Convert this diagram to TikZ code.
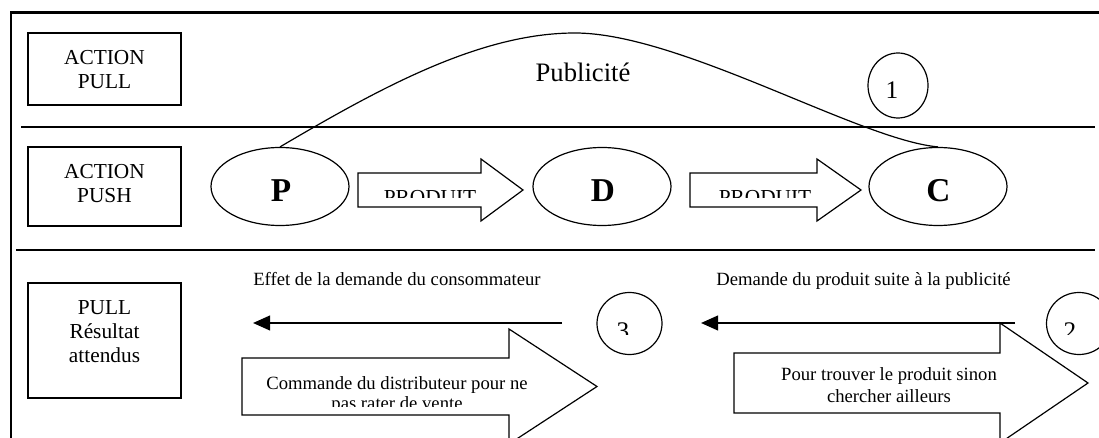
\documentclass[tikz,border=0pt]{standalone}
\usepackage{fontspec}
\setmainfont{Liberation Serif}
\usetikzlibrary{arrows.meta,shapes.geometric}
\newcommand{\blkarrow}[6]{%
  \draw[blockarrow] (#1,#4-#5) -- (#2,#4-#5) -- (#2,#4-#6) -- (#3,#4) -- (#2,#4+#6) -- (#2,#4+#5) -- (#1,#4+#5) -- cycle;}
\begin{document}
\begin{tikzpicture}[x=0.75pt,y=-0.75pt]
\tikzset{
  frame/.style={line width=1.6pt},
  sepline/.style={line width=1.1pt},
  box/.style={draw, rectangle, line width=0.9pt, inner sep=0pt, minimum width=114.75pt},
  actor/.style={draw, ellipse, line width=0.9pt, inner sep=0pt, minimum width=103.5pt, minimum height=58.5pt},
  numcirc/.style={draw, ellipse, line width=0.9pt, inner sep=0pt},
  blockarrow/.style={draw, line width=0.9pt, line join=miter},
  flowarrow/.style={line width=1.5pt, -{Triangle[length=12.75pt,width=11pt]}},
  curveline/.style={line width=0.9pt},
  lbl/.style={font=\fontsize{16}{19}\selectfont, inner sep=0pt, anchor=base},
  small/.style={font=\fontsize{14}{17}\selectfont, inner sep=0pt, anchor=base},
  smallw/.style={font=\fontsize{14}{17}\selectfont, inner sep=0pt, anchor=base west},
  big/.style={font=\fontsize{25}{30}\selectfont\bfseries, inner sep=0pt, anchor=base},
  digit/.style={font=\fontsize{19}{23}\selectfont, inner sep=0pt, anchor=base},
  pub/.style={font=\fontsize{20}{24}\selectfont, inner sep=0pt, anchor=base},
  prod/.style={font=\fontsize{16}{19}\selectfont, inner sep=0pt, anchor=base}
}
\clip (0,0) rectangle (1099,438);

% frame and separators
\draw[frame] (11,440) -- (11,12.5) -- (1100,12.5);
\draw[sepline] (21,127) -- (1095,127);
\draw[sepline] (16,250) -- (1095,250);

% left label boxes
\node[box, minimum height=54pt] (pullbox) at (104.5,69) {};
\node[lbl] (pullA) at (104.5,65) {ACTION};
\node[lbl] (pullB) at (104.5,89) {PULL};
\node[box, minimum height=59.25pt] (pushbox) at (104.5,186.5) {};
\node[lbl] (pushA) at (104.5,179) {ACTION};
\node[lbl] (pushB) at (104.5,203) {PUSH};
\node[box, minimum height=86.25pt] (resbox) at (104.5,340.5) {};
\node[lbl] (resA) at (104.5,315) {PULL};
\node[lbl] (resB) at (104.5,338.5) {Résultat};
\node[lbl] (resC) at (104.5,362) {attendus};

% actors
\node[actor] (P) at (280,186.5) {};
\node[actor] (D) at (602,186.5) {};
\node[actor] (C) at (938,186.5) {};
\node[big] (Pt) at (281,201.5) {P};
\node[big] (Dt) at (603,201.5) {D};
\node[big] (Ct) at (938.5,201.5) {C};

% advertising curve
\draw[curveline] (P.north) .. controls (380,88) and (480,33) .. (575,33)
  .. controls (680,33) and (860,140) .. (C.north);
\node[pub] (pubt) at (583,82) {Publicité};

% numbered circles
\node[numcirc, minimum width=45pt, minimum height=48.75pt] (n1) at (898,85.5) {};
\node[digit] (d1) at (892,98.3) {1};
\node[numcirc, minimum width=48.75pt, minimum height=46.5pt] (n3) at (629.5,323.5) {};
\node[numcirc, minimum width=48.75pt, minimum height=46.5pt] (n2) at (1079,323.5) {};
\begin{scope}
  \clip (590,290) rectangle (670,334);
  \node[digit] (d3) at (623,339.5) {3};
\end{scope}
\begin{scope}
  \clip (1040,290) rectangle (1099,334);
  \node[digit] (d2) at (1070,339.5) {2};
\end{scope}

% product block arrows
\blkarrow{358}{481}{523}{190}{17}{31}
\blkarrow{690}{817}{861}{190}{17}{31}
\begin{scope}
  \clip (358,170) rectangle (481,197.5);
  \node[prod] (prod1) at (430,205) {PRODUIT};
\end{scope}
\begin{scope}
  \clip (690,170) rectangle (817,197.5);
  \node[prod] (prod2) at (765,205) {PRODUIT};
\end{scope}

% bottom row
\node[smallw] (effet) at (253,285.5) {Effet de la demande du consommateur};
\node[smallw] (dem) at (716,285.5) {Demande du produit suite à la publicité};
\coordinate (l1s) at (562,323);
\coordinate (l1e) at (253,323);
\coordinate (l2s) at (1015,323);
\coordinate (l2e) at (701,323);
\draw[flowarrow] (l1s) -- (l1e);
\draw[flowarrow] (l2s) -- (l2e);

\blkarrow{242}{509}{597}{386.5}{28.5}{57.5}
\blkarrow{734}{1000}{1088}{383}{30}{60}
\begin{scope}
  \clip (242,355) rectangle (600,406.5);
  \node[small] (cmd1) at (397,389) {Commande du distributeur pour ne};
  \node[small] (cmd2) at (397,409) {pas rater de vente};
\end{scope}
\node[small] (pour1) at (889,380.5) {Pour trouver le produit sinon};
\node[small] (pour2) at (889,402.5) {chercher ailleurs};
\end{tikzpicture}
\end{document}
